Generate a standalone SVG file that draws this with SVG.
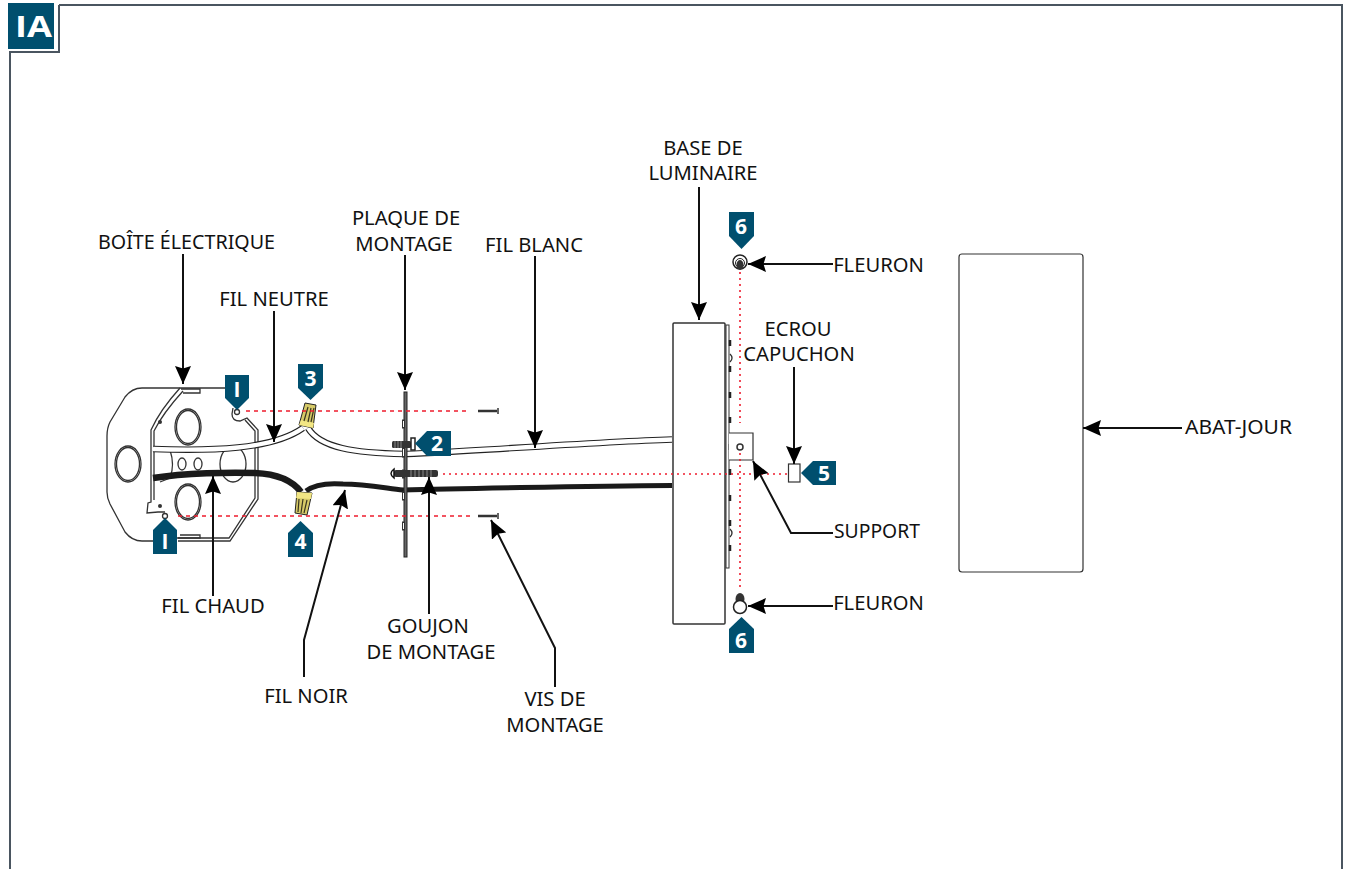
<svg xmlns="http://www.w3.org/2000/svg" width="1345" height="869" viewBox="0 0 1345 869">
<style>
.t{font-family:"Noto Sans","Open Sans","Liberation Sans",sans-serif;font-size:20.2px;fill:#111;text-anchor:middle}
.n{font-family:"Open Sans","Liberation Sans",sans-serif;font-size:21px;font-weight:700;fill:#fff;text-anchor:middle}
.b{fill:#004f6e}
.l{fill:none;stroke:#111;stroke-width:2}
.o{fill:none;stroke:#333;stroke-width:1.3}
.r{fill:none;stroke:#ee1c2e;stroke-width:1.6;stroke-dasharray:4 4}
.d{fill:none;stroke:#ee1c2e;stroke-width:1.6;stroke-dasharray:2 4}
.nut{fill:#d6ca68;stroke:#222;stroke-width:1}
.y{fill:#f2e684}
.th{fill:none;stroke:#3a3620;stroke-width:1.2}
.wo{fill:none;stroke:#222;stroke-width:6.5}
.wi{fill:none;stroke:#fff;stroke-width:4.3}
</style>
<defs>
<marker id="a" viewBox="0 0 18 16" refX="18" refY="8" markerWidth="18" markerHeight="16" markerUnits="userSpaceOnUse" orient="auto"><path d="M0 0L18 8L0 16L2.500 8Z" fill="#000"/></marker>
</defs>
<g id="frame">
<path d="M59 5H1342V869M10 869V52H59V5" fill="none" stroke="#4a5560" stroke-width="2"/>
<rect x="8" y="3" width="46" height="46" class="b"/>
<text x="15" y="37" font-family="Open Sans,Liberation Sans,sans-serif" font-size="28" font-weight="700" fill="#fff" textLength="37" lengthAdjust="spacingAndGlyphs">IA</text>
</g>
<g id="box">
<path class="o" stroke-width="1.500" d="M225 388H142Q132 388 125 397L110 422Q107 428 107 436V492Q107 498 110 504L125 532Q132 541 142 541H153"/>
<path class="o" d="M180 388Q160 410 151 430V502L148 503L147 513L158 512L165 512M183 391Q163 413 154 431V500"/>
<path class="o" d="M178 541H230L258 499V430L247 418L240 421Q232 421 232 414L233 408M175 538H229L255 498V431L245 420"/>
<path class="o" d="M181 389H200V393H183M178 538H200V535H180"/>
<ellipse class="o" cx="188" cy="427" rx="13" ry="18"/>
<ellipse class="o" cx="188" cy="427" rx="11.500" ry="16.500"/>
<ellipse class="o" cx="128" cy="464" rx="13" ry="18"/>
<ellipse class="o" cx="128" cy="464" rx="11.500" ry="16.500"/>
<ellipse class="o" cx="188" cy="502" rx="13" ry="18"/>
<ellipse class="o" cx="188" cy="502" rx="11.500" ry="16.500"/>
<path class="o" d="M170 450Q175 465 170 478L160 482"/>
<ellipse class="o" cx="182" cy="464" rx="4" ry="6"/>
<ellipse class="o" cx="198" cy="464" rx="4" ry="6"/>
<ellipse class="o" cx="233" cy="464" rx="13" ry="18"/>
<circle fill="#333" cx="160" cy="422" r="2"/>
<circle fill="#333" cx="160" cy="506" r="2"/>
<circle class="o" stroke-width="2" cx="237" cy="412" r="2.500"/>
<circle class="o" stroke-width="2" cx="165" cy="516" r="2.500"/>
</g>
<g id="wires">
<path class="wo" d="M153 449C210 451 272 450 303 428"/>
<path class="wi" d="M153 449C210 451 272 450 303 428"/>
<path class="wo" d="M308 428C320 448 355 453 404 454C450 453 590 442 672 439.500"/>
<path class="wi" d="M308 428C320 448 355 453 404 454C450 453 590 442 672 439.500"/>
<path fill="none" stroke="#1a1a1a" stroke-width="6.500" d="M153 478C185 473 230 472 255 473C278 474 292 480 301 492"/>
<path fill="none" stroke="#1a1a1a" stroke-width="5" d="M306 491C315 484 330 483 343 484C365 484 385 488 403 490C440 489 590 486 672 485.500"/>
</g>
<g id="wirenut-3"><path class="nut" d="M305 403L316 405L313 428L299 425Z"/><path class="y" d="M301 420L314 423L313 428L299 425Z"/><path class="th" d="M308 407L304 421M311 408L308 422M314 408L311 422"/></g>
<g id="wirenut-4"><path class="nut" d="M297 492L312 493L307 515L295 513Z"/><path class="y" d="M297 492L312 493L311 499L296 498Z"/><path class="th" d="M299 499L298 512M303 499L301 513M307 500L304 513"/></g>
<g id="mount-plate">
<rect x="404" y="392" width="3" height="165" fill="#666" stroke="#222"/>
<rect x="402.500" y="420" width="2" height="8" fill="#fff" stroke="#333"/>
<rect x="402.500" y="448" width="2" height="9" fill="#fff" stroke="#333"/>
<rect x="402.500" y="470" width="2" height="8" fill="#fff" stroke="#333"/>
<rect x="402.500" y="492" width="2" height="8" fill="#fff" stroke="#333"/>
<rect x="402.500" y="522" width="2" height="8" fill="#fff" stroke="#333"/>
</g>
<g id="stud">
<rect x="392" y="441" width="19" height="7" rx="1.500" fill="#333"/>
<path d="M395 441v7M398 441v7M401 441v7" stroke="#888"/>
<rect x="411" y="438" width="4" height="12" fill="#fff" stroke="#222" stroke-width="1.500"/>
<rect x="394" y="470" width="44" height="7" rx="2" fill="#333"/>
<path d="M411 470v7M415 470v7M419 470v7M423 470v7M427 470v7M431 470v7" stroke="#888"/>
<path d="M394 469Q388 473.500 394 478Z" fill="#fff" stroke="#111" stroke-width="1.500"/>
<path d="M478 411H497M478 516H497" stroke="#333" stroke-width="2.500"/>
<path d="M498 408V414M498 513V519" stroke="#333" stroke-width="1.500"/>
</g>
<g id="base">
<rect x="673" y="323" width="52" height="301" rx="1" fill="#fff" stroke="#333" stroke-width="1.500"/>
<rect x="726" y="325" width="3" height="243" fill="#fff" stroke="#333"/>
<path d="M730 340v6M730 366v6M730 392v6M730 417v6M730 444v6M730 469v6M730 495v6M730 520v6M730 545v6" stroke="#222" stroke-width="2.500"/>
<path d="M730 354q4 4 0 8M730 529q4 4 0 8" class="o"/>
<path d="M729 433H753V460H729" fill="#fff" stroke="#333" stroke-width="1.200"/>
<circle cx="740" cy="447" r="3" fill="none" stroke="#333" stroke-width="1.500"/>
<rect x="788.500" y="464" width="11.500" height="18" fill="#fff" stroke="#333" stroke-width="1.200"/>
</g>
<g id="red-lines">
<path class="r" d="M246 411H470M178 516H470"/>
<path class="d" d="M740 272V423M740 453V590M443 474H787"/>
</g>
<g id="finial-top"><circle cx="740" cy="262" r="7" fill="#fff" stroke="#222" stroke-width="1.500"/><circle cx="740" cy="263" r="4.500" fill="#fff" stroke="#222"/><ellipse cx="740" cy="265" rx="3.500" ry="5" fill="#333"/></g>
<g id="finial-bottom"><ellipse cx="740" cy="599" rx="4.500" ry="6" fill="#333"/><circle cx="740" cy="607" r="6.500" fill="#fff" stroke="#222" stroke-width="1.500"/></g>
<g id="shade"><rect x="959" y="254" width="124" height="318" rx="3" fill="#fff" stroke="#333" stroke-width="1.200"/></g>
<g id="connectors">
<path class="l" marker-end="url(#a)" d="M183 254V384"/>
<path class="l" marker-end="url(#a)" d="M274 311V442"/>
<path class="l" marker-end="url(#a)" d="M405 255V390"/>
<path class="l" marker-end="url(#a)" d="M535 256V448"/>
<path class="l" marker-end="url(#a)" d="M699 187V320"/>
<path class="l" marker-end="url(#a)" d="M833 264H748"/>
<path class="l" marker-end="url(#a)" d="M794 367V464"/>
<path class="l" marker-end="url(#a)" d="M1182 428H1083"/>
<path class="l" marker-end="url(#a)" d="M833 533H791L753 461"/>
<path class="l" marker-end="url(#a)" d="M833 606H748"/>
<path class="l" marker-end="url(#a)" d="M213 596V476"/>
<path class="l" marker-end="url(#a)" d="M304 677V640L345 490"/>
<path class="l" marker-end="url(#a)" d="M429 614V477"/>
<path class="l" marker-end="url(#a)" d="M555 687V648L491 520"/>
</g>
<g id="badge-1a"><path class="b" d="M225 375H249V398L237 410L225 398Z"/><text class="n" x="237" y="397">I</text></g>
<g id="badge-1b"><path class="b" d="M153 554V530L165 518L177 530V554Z"/><text class="n" x="165" y="549">I</text></g>
<g id="badge-3"><path class="b" d="M298 364H323V388L310.500 400L298 388Z"/><text class="n" x="310.500" y="386">3</text></g>
<g id="badge-4"><path class="b" d="M288 557V533L300.500 521L313 533V557Z"/><text class="n" x="300.500" y="549">4</text></g>
<g id="badge-2"><path class="b" d="M451 431V456H427L415 443.500L427 431Z"/><text class="n" x="437" y="451">2</text></g>
<g id="badge-5"><path class="b" d="M836 461V485H813L801 473L813 461Z"/><text class="n" x="824" y="481">5</text></g>
<g id="badge-6a"><path class="b" d="M729 212H754V236L741.500 249L729 236Z"/><text class="n" x="741" y="234">6</text></g>
<g id="badge-6b"><path class="b" d="M729 653V629L741.500 617L754 629V653Z"/><text class="n" x="741" y="648">6</text></g>
<g id="labels">
<text class="t" x="186.500" y="249" textLength="177" lengthAdjust="spacingAndGlyphs">BOÎTE ÉLECTRIQUE</text>
<text class="t" x="274" y="306">FIL NEUTRE</text>
<text class="t" x="406" y="225">PLAQUE DE</text><text class="t" x="404" y="251">MONTAGE</text>
<text class="t" x="534" y="252">FIL BLANC</text>
<text class="t" x="703" y="155">BASE DE</text><text class="t" x="703" y="180">LUMINAIRE</text>
<text class="t" x="878.500" y="272">FLEURON</text>
<text class="t" x="798" y="336">ECROU</text><text class="t" x="799" y="361">CAPUCHON</text>
<text class="t" x="1238.500" y="434" textLength="107" lengthAdjust="spacingAndGlyphs">ABAT-JOUR</text>
<text class="t" x="877" y="538" textLength="86" lengthAdjust="spacingAndGlyphs">SUPPORT</text>
<text class="t" x="878.500" y="610">FLEURON</text>
<text class="t" x="213" y="613">FIL CHAUD</text>
<text class="t" x="428" y="633">GOUJON</text><text class="t" x="431" y="659">DE MONTAGE</text>
<text class="t" x="306" y="703">FIL NOIR</text>
<text class="t" x="555" y="706">VIS DE</text><text class="t" x="555" y="732">MONTAGE</text>
</g>
</svg>
